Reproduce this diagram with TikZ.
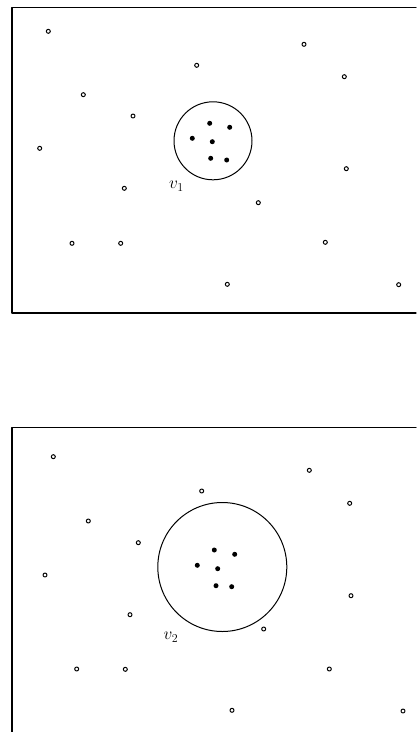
\documentclass[tikz,border=0pt]{standalone}
\begin{document}
\begin{tikzpicture}[x=1pt, y=-1pt, line cap=round, line join=round]
	% Styles for the sample points and the discs
	\tikzset{
		open/.style={circle, draw, line width=1pt, inner sep=0pt, minimum size=4pt},
		full/.style={circle, fill, inner sep=0pt, minimum size=5pt},
		disc/.style={circle, draw, line width=1pt, inner sep=0pt},
		frame/.style={line width=1.3pt},
	}
	\useasboundingbox (0,0) rectangle (416,732);
	
	% Upper panel: frame, open points, disc round v_1
	\draw[frame] (416,7.5) -- (12,7.5) -- (12,313) -- (416,313);
	\foreach \x/\y [count=\i] in {48.3/31.3, 304/44.3, 196.7/65.3, 344.3/76.7, 83.3/94.7,
		133/116, 39.7/148.3, 346.3/168.7, 124.3/188.3, 258.3/202.7,
		72/243.3, 120.7/243.3, 325.3/242.3, 227.3/284.3, 398.7/284.7}
		\node[open] (a\i) at (\x,\y) {};
	\node[disc, minimum size=78pt] (d1) at (213,140.8) {};
	\foreach \x/\y [count=\i] in {209.7/123.3, 229.7/127.3, 192.3/138.3,
		212.3/141.7, 210.7/158.3, 226.7/160}
		\node[full] (p\i) at (\x,\y) {};
	\node[font=\LARGE] (v1) at (176.5,186.5) {$v_1$};
	
	% Lower panel: frame, open points, larger disc round v_2
	\draw[frame] (416,427.5) -- (12,427.5) -- (12,732);
	\foreach \x/\y [count=\i] in {53.3/456.7, 309.3/470.3, 201.7/491, 349.7/503.3, 88.3/521,
		138.3/542.7, 45/575, 351/595.7, 130/614.7, 263.7/629,
		76.7/669, 125.3/669.3, 329.3/669, 232/710.3, 403/711}
		\node[open] (b\i) at (\x,\y) {};
	\node[disc, minimum size=129pt] (d2) at (222.3,567) {};
	\foreach \x/\y [count=\i] in {214.3/550, 234.7/554.3, 197.3/565.3,
		217.7/568.7, 216/585.7, 231.7/586.7}
		\node[full] (q\i) at (\x,\y) {};
	\node[font=\LARGE] (v2) at (171,637) {$v_2$};
\end{tikzpicture}
\end{document}
